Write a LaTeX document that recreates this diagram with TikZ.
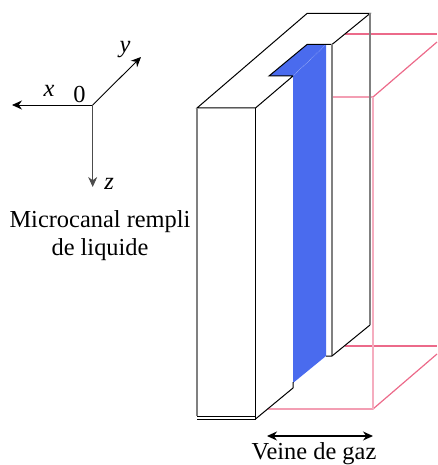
\documentclass[tikz,border=0pt]{standalone}
\usepackage{fontspec}
\setmainfont{Liberation Serif}
\usetikzlibrary{arrows.meta}
\definecolor{veine}{HTML}{EC6A8A}
\definecolor{canal}{HTML}{4A6BEE}
\tikzset{
  txt/.style={inner sep=0pt,font=\fontsize{24.4}{28}\selectfont,align=center},
  axis/.style={line width=0.9pt,-{Stealth[length=10pt,width=9pt]}},
  edge/.style={line width=1pt,line join=miter,black},
  edgev/.style={line width=1.5pt,black!50},
  gas/.style={line width=1.2pt,veine},
  gasv/.style={line width=1.6pt,veine!55},
}
\begin{document}
\begin{tikzpicture}[x=1pt,y=-1pt]
\useasboundingbox (0,0) rectangle (437,465);
% gas vein (pink box)
\draw[gas] (345,34) -- (437,34);
\draw[gas] (268,97) -- (373,97) -- (437,42);
\draw[gas] (268,409) -- (373,409) -- (437,354);
\draw[gas] (345,346) -- (437,346);
\draw[gasv] (373,97) -- (373,409);
% block faces
\fill[white] (197,108) -- (307,13.5) -- (370,13.5) -- (332,44.5) -- (307,44.5) -- (269,76) -- (293,76) -- (255.5,108) -- cycle;
\fill[white] (197,108) rectangle (255.5,419);
\fill[white] (255.5,108) -- (293,76) -- (293,388) -- (255.5,419) -- cycle;
\fill[white] (326,44.5) rectangle (332,356);
% liquid channel
\fill[canal] (269,76) -- (307,44.5) -- (326,44.5) -- (326,356) -- (293,383) -- (293,76) -- cycle;
\draw[white!70!canal,line width=0.5pt,densely dotted] (293,76) -- (326,44.5);
% outlines
\draw[edge] (293,76) -- (269,76) -- (307,44.5) -- (332,44.5) -- (370,13.5) -- (307,13.5) -- (197,108) -- (255.5,108) -- (293,76);
\draw[edgev] (197,108) -- (197,416);
\draw[edge] (255.5,108) -- (255.5,419);
\draw[edge] (197,416) -- (255.5,416);
\draw[edge] (197,419) -- (255.5,419);
\draw[edge] (255.5,419) -- (293,388) -- (293,382);
\draw[edgev] (332,44.5) -- (332,356);
\draw[edge] (326,356) -- (332,356) -- (370,325);
\draw[edgev] (370,13.5) -- (370,325);
% axes
\coordinate (o) at (92.7,105);
\coordinate (xe) at (12,105);
\coordinate (ye) at (141,57);
\coordinate (ze) at (92.7,187);
\draw[axis] (o) -- (xe);
\draw[axis] (o) -- (ye);
\draw[axis,black!70] (o) -- (ze);
\node[txt] (lx) at (49,91) {\itshape x};
\node[txt] (l0) at (79.5,95) {0};
\node[txt] (ly) at (125,50) {\itshape y};
\node[txt] (lz) at (109,184) {\itshape z};
\node[txt] (mc) at (100,236) {Microcanal rempli\\de liquide};
% gas width
\coordinate (a1) at (267,436);
\coordinate (a2) at (373,436);
\draw[line width=1.3pt,{Stealth[length=10pt,width=9pt]}-{Stealth[length=10pt,width=9pt]}] (a1) -- (a2);
\node[txt] (vg) at (314,453.5) {Veine de gaz};
\end{tikzpicture}
\end{document}
